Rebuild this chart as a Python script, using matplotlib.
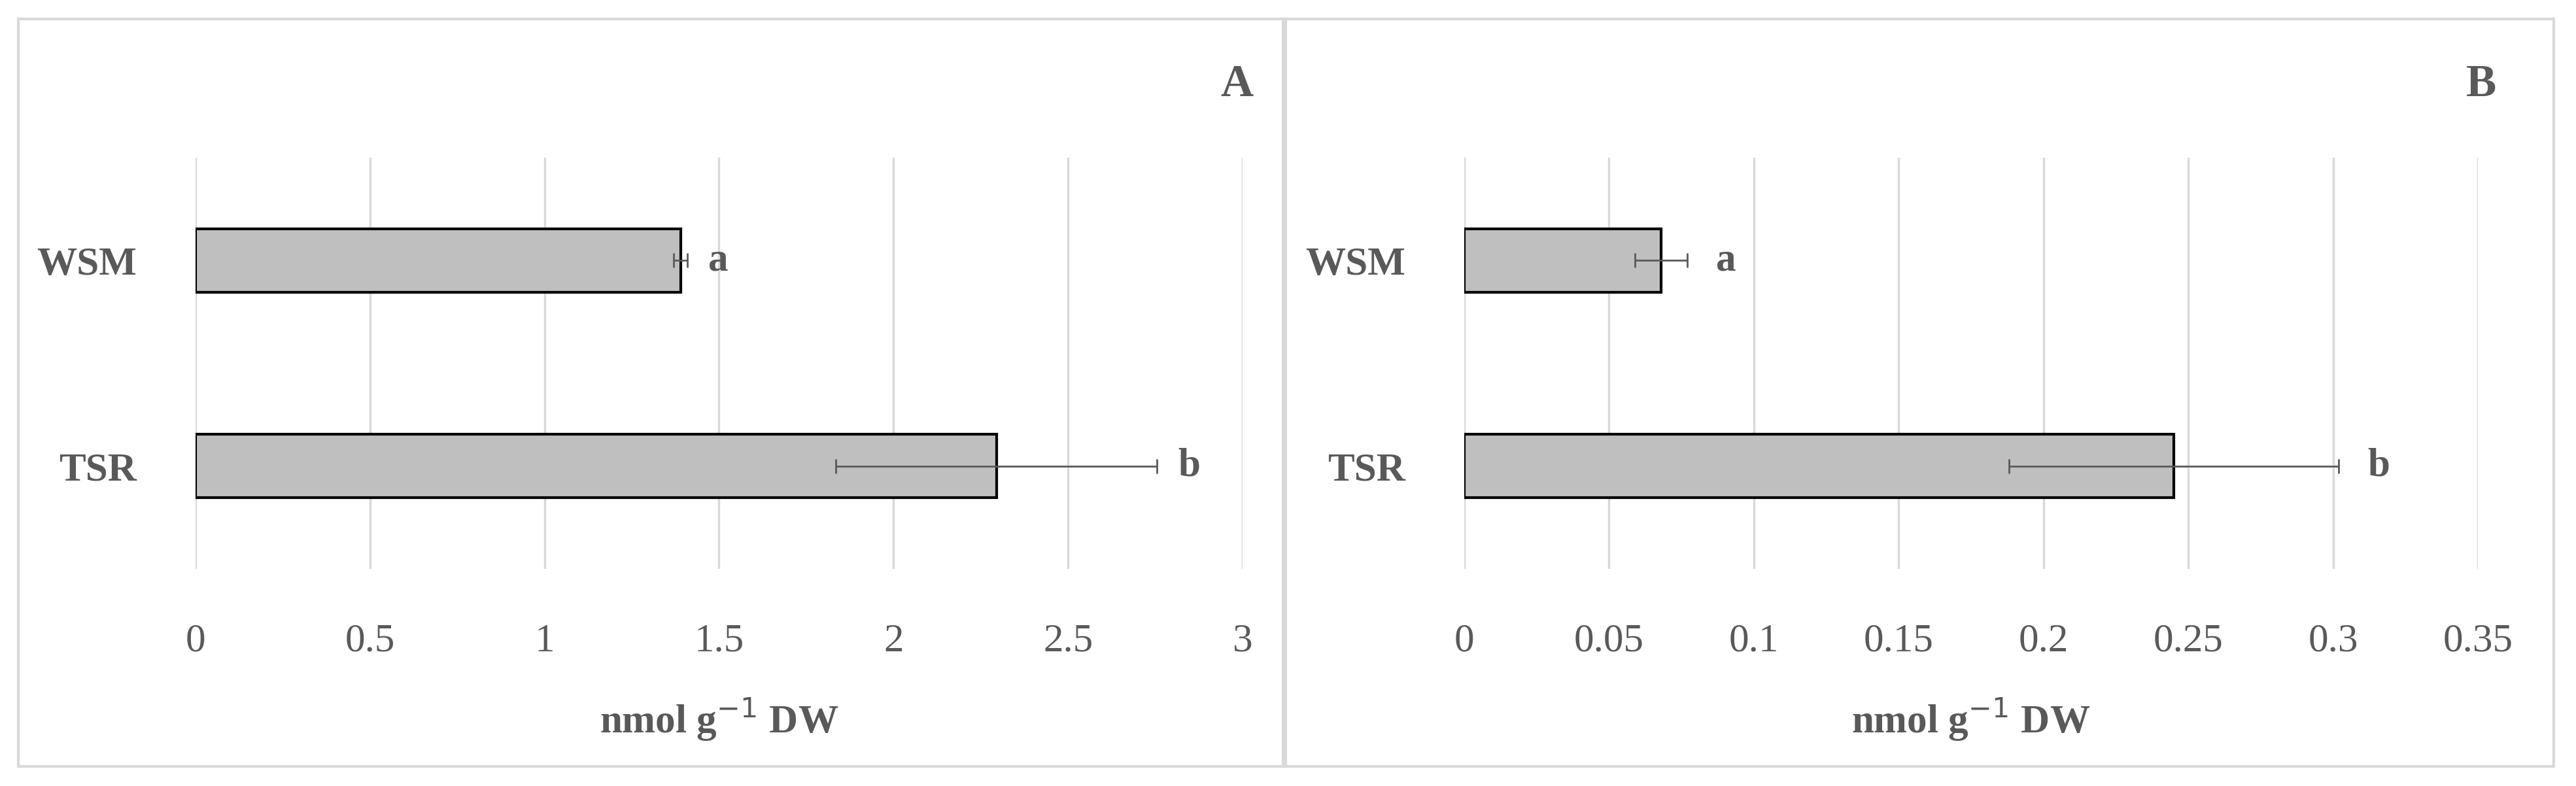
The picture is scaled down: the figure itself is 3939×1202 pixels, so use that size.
import matplotlib
matplotlib.use("Agg")
import matplotlib.pyplot as plt
from matplotlib.patches import Rectangle

categories = ["TSR", "WSM"]
valsA = [2.295, 1.39]
errA = [0.46, 0.02]
lettersA = ["b", "a"]
valsB = [0.245, 0.068]
errB = [0.057, 0.009]
lettersB = ["b", "a"]
ticksA = [0, 0.5, 1, 1.5, 2, 2.5, 3]
ticksB = [0, 0.05, 0.1, 0.15, 0.2, 0.25, 0.3, 0.35]

W, H = 3939, 1202
fig = plt.figure(figsize=(W/100, H/100), dpi=100)
plt.rcParams['font.family'] = ['Liberation Serif', 'DejaVu Serif']
gray = '#595959'

def px(x0, y0, x1, y1):
    return [x0/W, 1-y1/H, (x1-x0)/W, (y1-y0)/H]

for (bx0, bx1) in [(28, 1966), (1962, 3905)]:
    fig.patches.append(Rectangle((bx0/W, 1-1172/H), (bx1-bx0)/W, (1172-29)/H,
                                 transform=fig.transFigure, fill=False,
                                 edgecolor='#d9d9d9', linewidth=3))

def panel(rect, vals, errs, letters, ticks, xmax, letter_off, title, title_x):
    ax = fig.add_axes(px(*rect))
    ax.barh(range(len(categories)), vals, height=0.31, color='#bfbfbf',
            edgecolor='black', linewidth=3, zorder=3)
    ax.errorbar(vals, range(len(categories)), xerr=errs, fmt='none',
                ecolor=gray, elinewidth=2, capsize=8, capthick=2, zorder=4)
    for i, (v, e, l) in enumerate(zip(vals, errs, letters)):
        ax.text(v + e + letter_off, i, l, ha='left', va='center',
                fontsize=44, fontweight='bold', color=gray)
    ax.set_xlim(0, xmax)
    ax.set_ylim(-0.5, 1.5)
    ax.set_xticks(ticks)
    ax.set_xticklabels([f"{t:g}" for t in ticks], fontsize=44, color=gray)
    ax.set_yticks(range(len(categories)))
    ax.set_yticklabels(categories, fontsize=44, fontweight='bold', color=gray)
    ax.tick_params(length=0, axis='x', pad=60)
    ax.tick_params(length=0, axis='y', pad=65)
    ax.grid(axis='x', color='#d9d9d9', linewidth=2.5, zorder=0)
    for s in ax.spines.values():
        s.set_visible(False)
    ax.set_xlabel("nmol g$^{-1}$ DW", fontsize=44, fontweight='bold', color=gray, labelpad=40)
    fig.text(title_x/W, 1-130/H, title, fontsize=50, fontweight='bold', color=gray,
             ha='center', va='center')

panel((299, 241, 1900, 870), valsA, errA, lettersA, ticksA, 3, 0.06, "A", 1891)
panel((2239, 241, 3789, 870), valsB, errB, lettersB, ticksB, 0.35, 0.01, "B", 3794)

fig.savefig("out.png", dpi=100)
